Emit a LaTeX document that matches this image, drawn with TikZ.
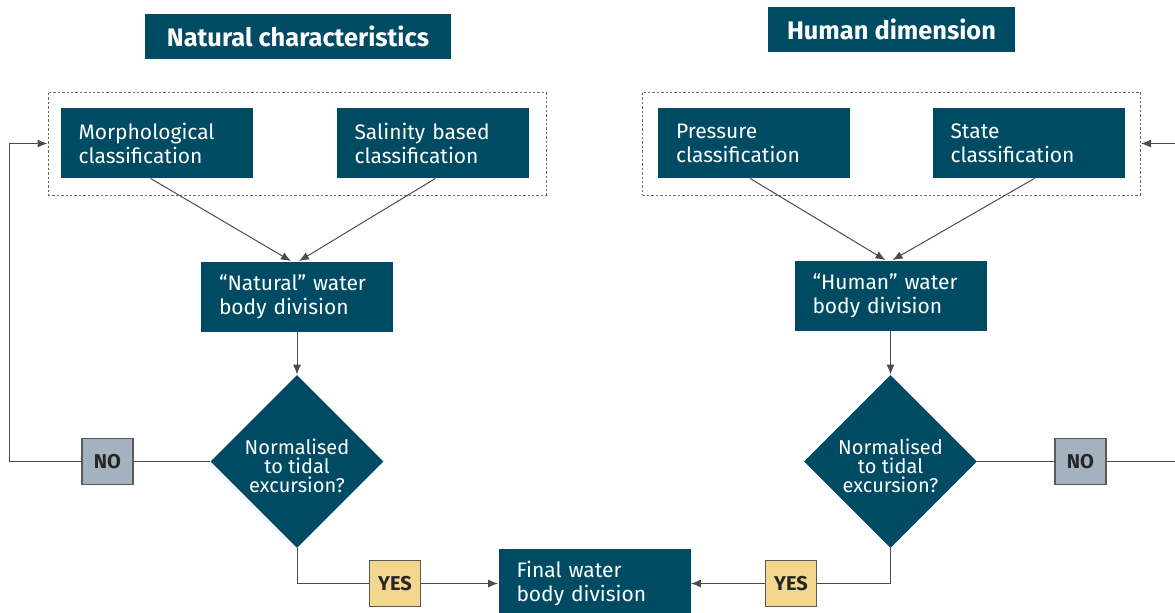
\documentclass[tikz,border=0pt]{standalone}
\usepackage{fontspec}
\setmainfont{Fira Sans}
\usetikzlibrary{shapes.geometric,arrows.meta}
\definecolor{petrol}{RGB}{0,75,100}
\definecolor{nogrey}{RGB}{164,177,190}
\definecolor{yesyellow}{RGB}{243,215,143}
\begin{document}
\begin{tikzpicture}[x=0.5pt,y=-0.5pt,
        header/.style={fill=petrol,text=white,inner sep=0pt,minimum height=22.5pt,font=\fontsize{12.7}{14}\selectfont\bfseries},
        box/.style={fill=petrol,text=white,inner xsep=9pt,inner ysep=0pt,minimum height=35pt,text width=78pt,align=left,font=\fontsize{10.5}{12}\selectfont},
        group/.style={draw=black!60,dash pattern=on 1.2pt off 1pt,line width=0.5pt,inner sep=0pt,minimum width=249pt,minimum height=51.5pt},
        question/.style={diamond,fill=petrol,inner sep=0pt,minimum width=86.5pt,minimum height=86.5pt},
        qtext/.style={text=white,inner sep=0pt,align=center,font=\fontsize{10}{9.5}\selectfont},
        answer/.style={draw=black!65,line width=0.6pt,inner sep=0pt,minimum width=25.5pt,minimum height=23pt,font=\fontsize{10}{12}\selectfont\bfseries,text=black!85},
        line/.style={draw=black!70,line width=0.5pt},
        arr/.style={line,-{Latex[length=5pt,width=4pt]}}]
        \useasboundingbox (0,0) rectangle (1175,612);

        \node[header,minimum width=153pt]   (nathead) at (298,36.5)  {Natural characteristics};
        \node[header,minimum width=123.5pt] (humhead) at (891.5,29.5) {Human dimension};

        \node[group] (natgrp) at (297,143.5) {};
        \node[group] (humgrp) at (891.5,143.5) {};

        \node[box] (morph)    at (156.5,143) {Morphological\\classification};
        \node[box] (salinity) at (432.5,143) {Salinity based\\classification};
        \node[box] (pressure) at (754,143)   {Pressure\\classification};
        \node[box] (state)    at (1028.5,143) {State\\classification};

        \node[box] (natbody) at (297,296.5)   {``Natural'' water\\body division};
        \node[box] (humbody) at (890.5,295.5) {``Human'' water\\body division};

        \node[question] (natq) at (297,461.5) {};
        \node[question] (humq) at (890.5,461.5) {};
        \node[qtext] (natqtext) at ([yshift=-2pt]natq.center) {Normalised\\to tidal\\excursion?};
        \node[qtext] (humqtext) at ([yshift=-2pt]humq.center) {Normalised\\to tidal\\excursion?};

        \node[answer,fill=nogrey] (natno) at (107.5,461.5)  {NO};
        \node[answer,fill=nogrey] (humno) at (1080.5,461.5) {NO};
        \node[answer,fill=yesyellow] (natyes) at (395,583.5) {YES};
        \node[answer,fill=yesyellow] (humyes) at (791,583.5) {YES};

        \node[box] (final) at (594.5,583.5) {Final water\\body division};

        \coordinate (natloop) at (9,461.5);
        \coordinate (humloop) at (1195,461.5);

        \draw[arr] ([xshift=-3pt]morph.south)    -- ([xshift=-3pt]natbody.north);
        \draw[arr] ([xshift=1.5pt]salinity.south) -- ([xshift=1pt]natbody.north);
        \draw[arr] ([xshift=-2pt]pressure.south) -- ([xshift=-2.5pt]humbody.north);
        \draw[arr] ([xshift=3pt]state.south)     -- ([xshift=1pt]humbody.north);

        \draw[arr] (natbody) -- (natq);
        \draw[arr] (humbody) -- (humq);

        \path[line] (natq) -- (natno);
        \path[line] (humq) -- (humno);
        \draw[arr] (natno) -- (natloop) |- (natgrp);
        \draw[arr] (humno) -- (humloop) |- (humgrp);

        \path[line] (natq) |- (natyes);
        \path[line] (humq) |- (humyes);
        \draw[arr] (natyes) -- (final);
        \draw[arr] (humyes) -- (final);
\end{tikzpicture}
\end{document}
